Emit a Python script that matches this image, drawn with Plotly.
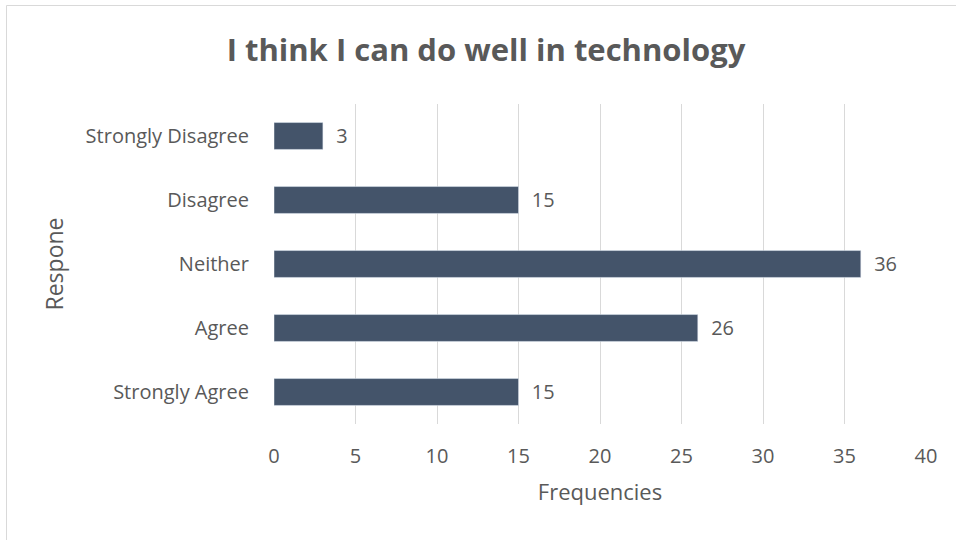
import plotly.graph_objects as go

categories = ["Strongly Agree", "Agree", "Neither", "Disagree", "Strongly Disagree"]
frequencies = [15, 26, 36, 15, 3]
x_ticks = [0, 5, 10, 15, 20, 25, 30, 35, 40]

TXT = "#595959"
FONT = "Open Sans"

fig = go.Figure(go.Bar(
    y=categories, x=frequencies, orientation="h",
    marker=dict(color="#44546A"),
    width=0.42,
    text=[f"\u00a0\u00a0{v}" for v in frequencies],
    textposition="outside",
    textfont=dict(family=FONT, size=20, color=TXT),
    cliponaxis=False,
))

W, H = 956, 540
L, R, T, B = 274, 30, 104, 116
pw, ph = W - L - R, H - T - B

def px(xp):
    return (xp - L) / pw

def py(yp):
    return (H - B - yp) / ph

fig.add_shape(type="rect", xref="paper", yref="paper",
              x0=px(6.5), x1=px(962), y0=py(5.5), y1=py(548),
              line=dict(color="#D9D9D9", width=1), fillcolor="rgba(0,0,0,0)", layer="below")

fig.update_layout(
    width=W, height=H,
    margin=dict(l=L, r=R, t=T, b=B),
    paper_bgcolor="white", plot_bgcolor="white",
    title=dict(text="<b>I think I can do well in technology</b>", x=486 / W, xanchor="center",
               y=1 - 50 / H, yanchor="middle",
               font=dict(family=FONT, size=31, color=TXT)),
    xaxis=dict(range=[0, 40], tickvals=x_ticks, showgrid=True, gridcolor="#D9D9D9", gridwidth=1,
               zeroline=False, showline=False, ticks="", ticklabelstandoff=18,
               tickfont=dict(family=FONT, size=20, color=TXT),
               title=dict(text="Frequencies", font=dict(family=FONT, size=22, color=TXT), standoff=16)),
    yaxis=dict(categoryorder="array", categoryarray=categories, showgrid=False, zeroline=False,
               showline=False, ticks="", ticklabelstandoff=24,
               tickfont=dict(family=FONT, size=20, color=TXT),
               title=dict(text="Respone", font=dict(family=FONT, size=23, color=TXT), standoff=15)),
    showlegend=False,
    bargap=0.58,
)

fig.write_html("out.html")
